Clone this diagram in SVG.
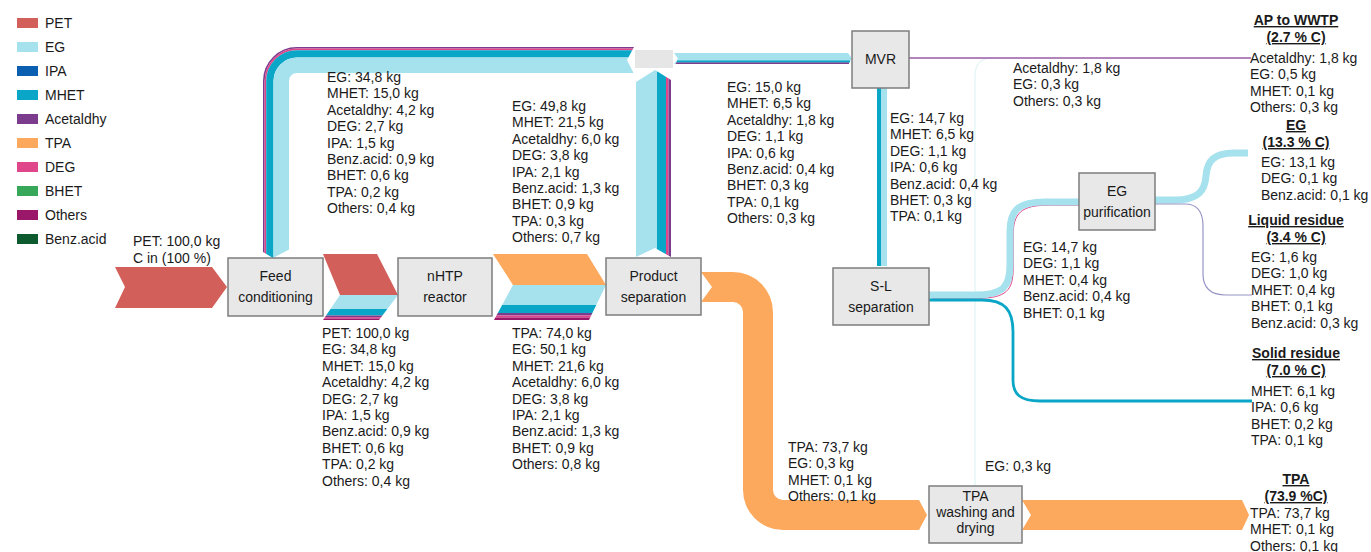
<svg xmlns="http://www.w3.org/2000/svg" width="1371" height="552" viewBox="0 0 1371 552">
<style>
text{font-family:"Liberation Sans",Arial,sans-serif;font-size:14px;fill:#1a1a1a}
.c{text-anchor:middle}
.t{font-weight:bold;text-decoration:underline;text-anchor:middle}
.box{fill:#e8e8e8;stroke:#7d7d7d;stroke-width:1.5}
.pet{fill:#d35f5a}.eg{fill:#a6e2ed}.ipa{fill:#0b5fb0}.mhet{fill:#09a6c7}.ace{fill:#7c3c8e}
.tpa{fill:#fda95d}.deg{fill:#e0468a}.bhet{fill:#37a85a}.oth{fill:#9a176a}.benz{fill:#0d5a2f}
</style>
<defs>
<clipPath id="ch1"><polygon points="323,254 377,254 398,295 379,320 323,320 340,295"/></clipPath>
<clipPath id="ch2"><polygon points="493,254 587,254 606,285 589,320 494,320 513,285"/></clipPath>
<clipPath id="loop"><polygon points="240,30 634,30 634,47 627,60 634,74 300,100 300,240 290,249 273,258 263,252 240,252"/></clipPath>
<clipPath id="up"><polygon points="636,82 655,70 671,80 671,257 655,248 636,257"/></clipPath>
</defs>
<rect width="1371" height="552" fill="#fff"/>

<g id="legend">
<rect class="pet" x="17" y="18" width="21" height="10"/><text x="45" y="28">PET</text>
<rect class="eg" x="17" y="42" width="21" height="10"/><text x="45" y="52">EG</text>
<rect class="ipa" x="17" y="66" width="21" height="10"/><text x="45" y="76">IPA</text>
<rect class="mhet" x="17" y="90" width="21" height="10"/><text x="45" y="100">MHET</text>
<rect class="ace" x="17" y="114" width="21" height="10"/><text x="45" y="124">Acetaldhy</text>
<rect class="tpa" x="17" y="138" width="21" height="10"/><text x="45" y="148">TPA</text>
<rect class="deg" x="17" y="162" width="21" height="10"/><text x="45" y="172">DEG</text>
<rect class="bhet" x="17" y="186" width="21" height="10"/><text x="45" y="196">BHET</text>
<rect class="oth" x="17" y="210" width="21" height="10"/><text x="45" y="220">Others</text>
<rect class="benz" x="17" y="234" width="21" height="10"/><text x="45" y="244">Benz.acid</text>
</g>

<g id="connectors">
<!-- faint EG line from TPA washing to WWTP -->
<path d="M975,486 V76 Q975,58 993,58" fill="none" stroke="#e2f3f6" stroke-width="1.2"/>
<!-- inlet PET -->
<polygon class="pet" points="115,267 212,267 227,287 212,308 115,308 125,287"/>
<!-- chevron feed -> nHTP -->
<g clip-path="url(#ch1)">
<rect class="pet" x="320" y="252" width="80" height="43"/>
<rect class="eg" x="320" y="295" width="80" height="14"/>
<rect class="mhet" x="320" y="309" width="80" height="6.5"/>
<rect class="ace" x="320" y="315.5" width="80" height="1.6"/>
<rect class="deg" x="320" y="317.1" width="80" height="1.4"/>
<rect class="oth" x="320" y="318.5" width="80" height="2"/>
</g>
<!-- chevron nHTP -> product separation -->
<g clip-path="url(#ch2)">
<rect class="tpa" x="490" y="252" width="120" height="33"/>
<rect class="eg" x="490" y="285" width="120" height="20"/>
<rect class="mhet" x="490" y="305" width="120" height="8"/>
<rect class="ace" x="490" y="313" width="120" height="2.5"/>
<rect class="deg" x="490" y="315.5" width="120" height="2"/>
<rect class="oth" x="490" y="317.5" width="120" height="3"/>
</g>
<!-- recycle loop -->
<g clip-path="url(#loop)" fill="none">
<path d="M263.8,262 V81 A33.2,33.2 0 0 1 297,47.8 H640" stroke="#7c3c8e" stroke-width="1.6"/>
<path d="M265.4,262 V81 A31.6,31.6 0 0 1 297,49.4 H640" stroke="#e0468a" stroke-width="1.6"/>
<path d="M269.85,262 V81 A27.15,27.15 0 0 1 297,53.85 H640" stroke="#09a6c7" stroke-width="7.3"/>
<path d="M281.25,262 V81 A15.75,15.75 0 0 1 297,65.25 H640" stroke="#a6e2ed" stroke-width="15.5"/>
</g>
<!-- vertical band from product separation up -->
<g clip-path="url(#up)">
<rect class="eg" x="636" y="65" width="21" height="195"/>
<rect class="mhet" x="657" y="65" width="9" height="195"/>
<rect class="deg" x="666" y="65" width="2.5" height="195"/>
<rect class="ace" x="668.5" y="65" width="2.5" height="195"/>
</g>
<!-- splitter -->
<rect x="635" y="50" width="38" height="18" fill="#e6e6e6"/>
<!-- band to MVR -->
<polygon class="eg" points="674,53 848,53 852,58.5 848,64 674,64 678,58.5"/>
<rect class="mhet" x="677" y="60.5" width="173" height="2"/>
<rect class="ace" x="676" y="62.5" width="173" height="1.5"/>
<!-- MVR to WWTP -->
<line x1="909" y1="58" x2="1251" y2="58" stroke="#9a5aa8" stroke-width="1.4"/>
<!-- MVR to S-L -->
<rect class="mhet" x="877" y="88" width="4" height="178"/>
<rect class="eg" x="881" y="88" width="6" height="178"/>
<!-- S-L to EG purification -->
<path d="M929,295 H975 C1003,295 1010,287 1010,265 V232 C1010,210 1018,202 1045,202 H1079" fill="none" stroke="#e0468a" stroke-width="1" transform="translate(3.2,3.2)"/>
<path d="M929,295 H975 C1003,295 1010,287 1010,265 V232 C1010,210 1018,202 1045,202 H1079" fill="none" stroke="#a6e2ed" stroke-width="7"/>
<!-- S-L to solid residue -->
<path d="M929,300 H982 C1005,300 1013,310 1013,332 V380 C1013,394 1020,401 1040,401 H1252" fill="none" stroke="#09a6c7" stroke-width="2.8"/>
<!-- EG purification to EG -->
<path d="M1155,200 H1175 C1199,200 1205,190 1206,176 C1207,161 1214,153 1234,153 H1248" fill="none" stroke="#a6e2ed" stroke-width="7"/>
<!-- EG purification to liquid residue -->
<path d="M1155,204 H1185 C1198,204 1203,212 1203,226 V274 C1203,288 1210,295 1226,295 H1252" fill="none" stroke="#9694c6" stroke-width="1.2"/>
<!-- TPA orange flows -->
<path class="tpa" d="M701,272 H733 A40,40 0 0 1 773,312 V490 A10,10 0 0 0 783,500 H919 L927,515 L919,530 H783 A40,40 0 0 1 743,490 V312 A10,10 0 0 0 733,302 H701 L712,287 Z"/>
<polygon class="tpa" points="1022,500 1242,500 1249,515 1242,530 1022,530 1031,515"/>
</g>

<g id="feed-conditioning"><rect class="box" x="228" y="258" width="95" height="58"/><text class="c" x="275.5" y="281">Feed</text><text class="c" x="275.5" y="302">conditioning</text></g>
<g id="nhtp-reactor"><rect class="box" x="398" y="258" width="94" height="58"/><text class="c" x="445" y="281">nHTP</text><text class="c" x="445" y="302">reactor</text></g>
<g id="product-separation"><rect class="box" x="606" y="258" width="95" height="57"/><text class="c" x="653.5" y="281">Product</text><text class="c" x="653.5" y="302">separation</text></g>
<g id="mvr"><rect class="box" x="852" y="31" width="57" height="57"/><text class="c" x="880.5" y="64">MVR</text></g>
<g id="sl-separation"><rect class="box" x="833" y="268" width="96" height="57"/><text class="c" x="881" y="291">S-L</text><text class="c" x="881" y="312">separation</text></g>
<g id="eg-purification"><rect class="box" x="1079" y="173" width="76" height="57"/><text class="c" x="1117" y="196">EG</text><text class="c" x="1117" y="217">purification</text></g>
<g id="tpa-washing"><rect class="box" x="929" y="486" width="93" height="57"/><text class="c" x="975.5" y="501">TPA</text><text class="c" x="975.5" y="517">washing and</text><text class="c" x="975.5" y="533">drying</text></g>

<g id="labels">
<text x="133" y="246"><tspan x="133">PET: 100,0 kg</tspan><tspan x="133" dy="17">C in (100 %)</tspan></text>
<text y="338"><tspan x="322">PET: 100,0 kg</tspan><tspan x="322" dy="16.4">EG: 34,8 kg</tspan><tspan x="322" dy="16.4">MHET: 15,0 kg</tspan><tspan x="322" dy="16.4">Acetaldhy: 4,2 kg</tspan><tspan x="322" dy="16.4">DEG: 2,7 kg</tspan><tspan x="322" dy="16.4">IPA: 1,5 kg</tspan><tspan x="322" dy="16.4">Benz.acid: 0,9 kg</tspan><tspan x="322" dy="16.4">BHET: 0,6 kg</tspan><tspan x="322" dy="16.4">TPA: 0,2 kg</tspan><tspan x="322" dy="16.4">Others: 0,4 kg</tspan></text>
<text y="82"><tspan x="327">EG: 34,8 kg</tspan><tspan x="327" dy="16.4">MHET: 15,0 kg</tspan><tspan x="327" dy="16.4">Acetaldhy: 4,2 kg</tspan><tspan x="327" dy="16.4">DEG: 2,7 kg</tspan><tspan x="327" dy="16.4">IPA: 1,5 kg</tspan><tspan x="327" dy="16.4">Benz.acid: 0,9 kg</tspan><tspan x="327" dy="16.4">BHET: 0,6 kg</tspan><tspan x="327" dy="16.4">TPA: 0,2 kg</tspan><tspan x="327" dy="16.4">Others: 0,4 kg</tspan></text>
<text y="111"><tspan x="512">EG: 49,8 kg</tspan><tspan x="512" dy="16.4">MHET: 21,5 kg</tspan><tspan x="512" dy="16.4">Acetaldhy: 6,0 kg</tspan><tspan x="512" dy="16.4">DEG: 3,8 kg</tspan><tspan x="512" dy="16.4">IPA: 2,1 kg</tspan><tspan x="512" dy="16.4">Benz.acid: 1,3 kg</tspan><tspan x="512" dy="16.4">BHET: 0,9 kg</tspan><tspan x="512" dy="16.4">TPA: 0,3 kg</tspan><tspan x="512" dy="16.4">Others: 0,7 kg</tspan></text>
<text y="338"><tspan x="512">TPA: 74,0 kg</tspan><tspan x="512" dy="16.4">EG: 50,1 kg</tspan><tspan x="512" dy="16.4">MHET: 21,6 kg</tspan><tspan x="512" dy="16.4">Acetaldhy: 6,0 kg</tspan><tspan x="512" dy="16.4">DEG: 3,8 kg</tspan><tspan x="512" dy="16.4">IPA: 2,1 kg</tspan><tspan x="512" dy="16.4">Benz.acid: 1,3 kg</tspan><tspan x="512" dy="16.4">BHET: 0,9 kg</tspan><tspan x="512" dy="16.4">Others: 0,8 kg</tspan></text>
<text y="92"><tspan x="727">EG: 15,0 kg</tspan><tspan x="727" dy="16.4">MHET: 6,5 kg</tspan><tspan x="727" dy="16.4">Acetaldhy: 1,8 kg</tspan><tspan x="727" dy="16.4">DEG: 1,1 kg</tspan><tspan x="727" dy="16.4">IPA: 0,6 kg</tspan><tspan x="727" dy="16.4">Benz.acid: 0,4 kg</tspan><tspan x="727" dy="16.4">BHET: 0,3 kg</tspan><tspan x="727" dy="16.4">TPA: 0,1 kg</tspan><tspan x="727" dy="16.4">Others: 0,3 kg</tspan></text>
<text y="123"><tspan x="890">EG: 14,7 kg</tspan><tspan x="890" dy="16.4">MHET: 6,5 kg</tspan><tspan x="890" dy="16.4">DEG: 1,1 kg</tspan><tspan x="890" dy="16.4">IPA: 0,6 kg</tspan><tspan x="890" dy="16.4">Benz.acid: 0,4 kg</tspan><tspan x="890" dy="16.4">BHET: 0,3 kg</tspan><tspan x="890" dy="16.4">TPA: 0,1 kg</tspan></text>
<text y="73"><tspan x="1013">Acetaldhy: 1,8 kg</tspan><tspan x="1013" dy="16.4">EG: 0,3 kg</tspan><tspan x="1013" dy="16.4">Others: 0,3 kg</tspan></text>
<text y="252"><tspan x="1023">EG: 14,7 kg</tspan><tspan x="1023" dy="16.4">DEG: 1,1 kg</tspan><tspan x="1023" dy="16.4">MHET: 0,4 kg</tspan><tspan x="1023" dy="16.4">Benz.acid: 0,4 kg</tspan><tspan x="1023" dy="16.4">BHET: 0,1 kg</tspan></text>
<text y="452"><tspan x="788">TPA: 73,7 kg</tspan><tspan x="788" dy="16.4">EG: 0,3 kg</tspan><tspan x="788" dy="16.4">MHET: 0,1 kg</tspan><tspan x="788" dy="16.4">Others: 0,1 kg</tspan></text>
<text x="985" y="471">EG: 0,3 kg</text>
</g>

<g id="out-wwtp">
<text class="t" x="1296" y="25">AP to WWTP</text><text class="t" x="1296" y="42">(2.7 % C)</text>
<text y="63"><tspan x="1250">Acetaldhy: 1,8 kg</tspan><tspan x="1250" dy="16.4">EG: 0,5 kg</tspan><tspan x="1250" dy="16.4">MHET: 0,1 kg</tspan><tspan x="1250" dy="16.4">Others: 0,3 kg</tspan></text>
</g>
<g id="out-eg">
<text class="t" x="1296" y="130">EG</text><text class="t" x="1296" y="147">(13.3 % C)</text>
<text y="167"><tspan x="1261">EG: 13,1 kg</tspan><tspan x="1261" dy="16.4">DEG: 0,1 kg</tspan><tspan x="1261" dy="16.4">Benz.acid: 0,1 kg</tspan></text>
</g>
<g id="out-liquid">
<text class="t" x="1296" y="225">Liquid residue</text><text class="t" x="1296" y="242">(3.4 % C)</text>
<text y="262"><tspan x="1251">EG: 1,6 kg</tspan><tspan x="1251" dy="16.4">DEG: 1,0 kg</tspan><tspan x="1251" dy="16.4">MHET: 0,4 kg</tspan><tspan x="1251" dy="16.4">BHET: 0,1 kg</tspan><tspan x="1251" dy="16.4">Benz.acid: 0,3 kg</tspan></text>
</g>
<g id="out-solid">
<text class="t" x="1296" y="358">Solid residue</text><text class="t" x="1296" y="375">(7.0 % C)</text>
<text y="396"><tspan x="1251">MHET: 6,1 kg</tspan><tspan x="1251" dy="16.4">IPA: 0,6 kg</tspan><tspan x="1251" dy="16.4">BHET: 0,2 kg</tspan><tspan x="1251" dy="16.4">TPA: 0,1 kg</tspan></text>
</g>
<g id="out-tpa">
<text class="t" x="1296" y="484">TPA</text><text class="t" x="1296" y="501">(73.9 %C)</text>
<text y="518"><tspan x="1250">TPA: 73,7 kg</tspan><tspan x="1250" dy="16.4">MHET: 0,1 kg</tspan><tspan x="1250" dy="16.4">Others: 0,1 kg</tspan></text>
</g>
</svg>
